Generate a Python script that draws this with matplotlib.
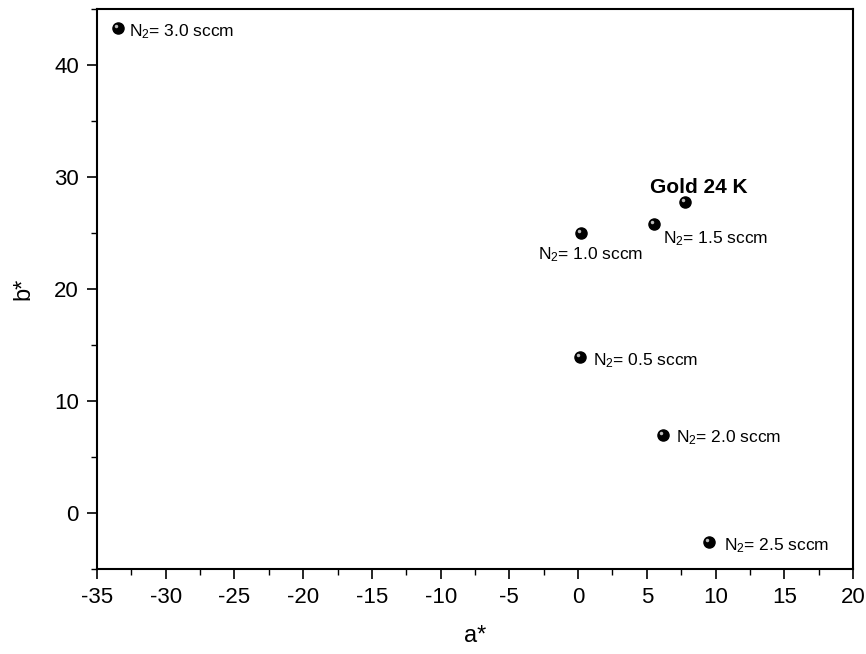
import matplotlib
matplotlib.use("Agg")
import matplotlib.pyplot as plt
import matplotlib.transforms as mtransforms
from matplotlib.ticker import MultipleLocator

plt.rcParams["font.family"] = ["Liberation Sans", "DejaVu Sans"]
plt.rcParams["mathtext.fontset"] = "custom"
plt.rcParams["mathtext.rm"] = "Liberation Sans"
plt.rcParams["mathtext.it"] = "Liberation Sans:italic"
plt.rcParams["axes.unicode_minus"] = False

# CIELab colour coordinates of the films and of 24 K gold
names = ["3.0", "1.5", "1.0", "0.5", "2.0", "2.5"]
a_star = [-33.5, 5.5, 0.2, 0.15, 6.2, 9.5]
b_star = [43.3, 25.8, 25.0, 13.9, 7.0, -2.6]
# label offsets in pixels (dx, dy) from each point
offsets = [(11, -8), (9, -19), (-43, -26), (13, -8), (13, -8), (15, -8)]

gold_a = 7.8
gold_b = 27.8

fig = plt.figure(figsize=(8.66, 6.54), dpi=100)
ax = fig.add_axes([0.112, 0.130, 0.873, 0.856])

xs = a_star + [gold_a]
ys = b_star + [gold_b]
ax.plot(xs, ys, "o", color="black", ms=8, mec="black", zorder=3)
# small highlight on each ball
hl = ax.transData + mtransforms.ScaledTranslation(-1.5 / 72, 1.5 / 72, fig.dpi_scale_trans)
ax.plot(xs, ys, "o", color="#bbbbbb", ms=2.5, mec="none", transform=hl, zorder=4)

for n, x, y, (dx, dy) in zip(names, a_star, b_star, offsets):
    ax.annotate("N$_2$= " + n + " sccm", (x, y), xytext=(dx, dy),
                textcoords="offset pixels", ha="left", va="baseline",
                fontsize=12.5)

ax.annotate("Gold 24 K", (gold_a, gold_b), xytext=(13, 9),
            textcoords="offset pixels", ha="center", va="baseline",
            fontsize=15, fontweight="bold")

ax.set_xlim(-35, 20)
ax.set_ylim(-5, 45)
ax.xaxis.set_major_locator(MultipleLocator(5))
ax.xaxis.set_minor_locator(MultipleLocator(2.5))
ax.yaxis.set_major_locator(MultipleLocator(10))
ax.yaxis.set_minor_locator(MultipleLocator(5))
ax.tick_params(which="major", direction="out", length=7, width=1.2, labelsize=16, pad=6)
ax.tick_params(which="minor", direction="out", length=4, width=1.0)
for s in ax.spines.values():
    s.set_linewidth(1.5)

ax.set_xlabel("a*", fontsize=17, labelpad=12)
ax.set_ylabel("b*", fontsize=17, labelpad=14)

fig.savefig("out.png", dpi=100)
